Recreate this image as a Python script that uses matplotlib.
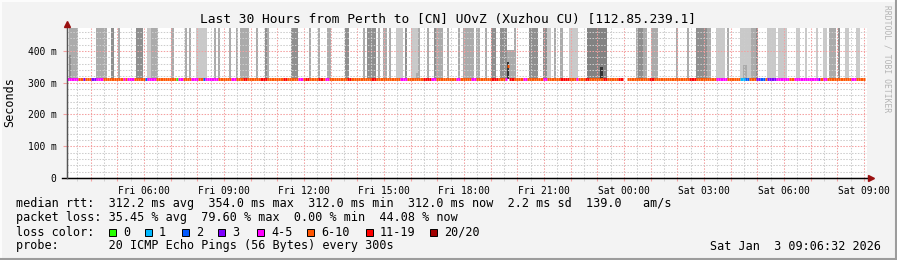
import numpy as np
import matplotlib
matplotlib.use("Agg")
import matplotlib.pyplot as plt
from matplotlib.patches import Rectangle
from matplotlib.lines import Line2D
from matplotlib.ticker import MultipleLocator, FuncFormatter

plt.rcParams['font.family'] = ['DejaVu Sans Mono']

W, H = 897, 260

# time window in hours since Fri 00:00, 5 minute steps
t_start = 3 + 6 / 60 + 32 / 3600
t_end = t_start + 30
step_h = 5 / 60
n_steps = 359

median_ms = 312.0
y_top = 472.4

# smoke bands: step index start / end and grey level
band_start = [1, 13, 20, 23, 31, 36, 38, 47, 53, 55, 58, 66, 68, 73, 76, 78, 81, 85, 89, 90,
              101, 109, 113, 117, 125, 133, 135, 140, 142, 145, 148, 152, 155, 158, 162, 165,
              166, 171, 176, 178, 180, 184, 188, 191, 195, 201, 208, 214, 216, 219, 222, 226,
              234, 256, 257, 259, 263, 274, 279, 283, 288, 292, 297, 303, 308, 310, 315, 320,
              328, 332, 337, 340, 343, 347, 350, 355]
band_end = [5, 18, 21, 24, 34, 38, 41, 48, 54, 56, 63, 67, 69, 74, 77, 81, 82, 86, 90, 91,
            104, 110, 114, 119, 127, 134, 139, 141, 144, 146, 151, 153, 158, 159, 163, 166,
            169, 172, 177, 180, 183, 186, 189, 193, 198, 202, 212, 216, 218, 220, 223, 230,
            243, 257, 259, 261, 266, 275, 280, 288, 290, 296, 298, 308, 310, 311, 319, 324,
            330, 333, 338, 342, 346, 348, 352, 357]
band_shade = ("mmdmdlmmmmlmmmmmmmdm" "dmmmdmdmmmldlmmd" "mmmmmmmddmddlmml"
              "kmdmmmmdmlmlmdll" "llllmdll")

# smoke that stops below the top of the graph
part_start = [1, 157, 198, 198, 240, 304]
part_end = [2, 158, 201, 199, 241, 306]
part_top = [388, 330, 403, 366, 350, 356]
part_shade = "dmmxxm"

shades = {'l': '#c9c9c9', 'm': '#ababab', 'd': '#8f8f8f', 'k': '#828282', 'x': '#333333'}

# loss runs on the median line (default 6-10)
run_start = [0, 7, 11, 13, 25, 27, 35, 36, 49, 50, 56, 61, 62, 74, 79, 87, 97, 104, 107, 113,
             116, 126, 137, 150, 160, 164, 175, 182, 191, 197, 199, 205, 214, 222, 229, 233,
             241, 248, 262, 280, 292, 303, 305, 310, 312, 315, 319, 327, 329, 338, 340, 353]
run_end = [5, 8, 13, 16, 26, 30, 36, 40, 50, 52, 59, 62, 68, 76, 81, 90, 99, 106, 109, 115,
           118, 128, 139, 153, 164, 166, 177, 184, 194, 198, 201, 207, 216, 226, 230, 235,
           243, 250, 264, 283, 297, 305, 307, 312, 314, 319, 325, 329, 338, 339, 342, 355]
run_cat = [4, 3, 3, 4, 4, 4, 2, 4, 0, 4, 4, 2, 4, 4, 6, 6, 6, 4, 6, 6,
           4, 6, 6, 4, 6, 4, 4, 4, 6, 4, 6, 4, 4, 6, 4, 6,
           6, 6, 6, 6, 4, 1, 2, 3, 2, 3, 4, 4, 4, 3, 4, 4]
gap_steps = [250, 251]
spike_steps = [198]
spike_ms = [354.0]

loss_labels = ['0', '1', '2', '3', '4-5', '6-10', '11-19', '20/20']
loss_colors = ['#26ff00', '#00b8ff', '#0059ff', '#7e00ff', '#ff00ff', '#ff5500', '#ff0000', '#a10000']

fig = plt.figure(figsize=(W / 100, H / 100), dpi=100)
fig.patch.set_facecolor('#f3f3f3')
ax = fig.add_axes([67 / W, (H - 178) / H, 800 / W, 150 / H])
ax.set_facecolor('white')

# smoke
bs = np.array(band_start)
be = np.array(band_end)
ax.bar(t_start + bs * step_h, y_top - median_ms, width=(be - bs) * step_h, bottom=median_ms,
       align='edge', color=[shades[c] for c in band_shade], lw=0, zorder=1)
ps = np.array(part_start)
pe = np.array(part_end)
ax.bar(t_start + ps * step_h, np.array(part_top) - median_ms, width=(pe - ps) * step_h,
       bottom=median_ms, align='edge', color=[shades[c] for c in part_shade], lw=0, zorder=1.5)

# median line coloured by loss
cat = np.full(n_steps, 5)
for s, e, c in zip(run_start, run_end, run_cat):
    cat[s:e] = c
med = np.full(n_steps, median_ms)
med[spike_steps] = spike_ms
keep = np.ones(n_steps, bool)
keep[gap_steps] = False
x0 = t_start + np.arange(n_steps) * step_h
ax.hlines(med[keep], x0[keep], x0[keep] + step_h,
          colors=[loss_colors[c] for c in cat[keep]], lw=2.1, zorder=5)

ax.set_xlim(t_start, t_end)
ax.set_ylim(0, y_top)


def hour_label(h, pos):
    hh = int(round(h))
    if hh % 3:
        return ''
    day = 'Fri' if hh < 24 else 'Sat'
    return '%s %02d:00' % (day, hh % 24)


def ms_label(v, pos):
    return '0' if v == 0 else '%d m' % v


ax.xaxis.set_major_locator(MultipleLocator(1))
ax.xaxis.set_minor_locator(MultipleLocator(0.5))
ax.xaxis.set_major_formatter(FuncFormatter(hour_label))
ax.yaxis.set_major_locator(MultipleLocator(100))
ax.yaxis.set_minor_locator(MultipleLocator(20))
ax.yaxis.set_major_formatter(FuncFormatter(ms_label))

ax.set_axisbelow(False)
ax.grid(which='major', color='#f4a0a0', lw=0.75, ls=(0, (1.4, 1.4)))
ax.grid(which='minor', color='#cccccc', lw=0.75, ls=(0, (1.4, 1.4)))
ax.tick_params(axis='x', which='major', length=2, color='#f4a0a0', pad=3.5, labelsize=6.9)
ax.tick_params(axis='x', which='minor', length=2, color='#cccccc')
ax.tick_params(axis='y', which='major', length=3, color='#f4a0a0', pad=4.5, labelsize=6.9)
ax.tick_params(axis='y', which='minor', length=0)

for side in ['top', 'right']:
    ax.spines[side].set_visible(False)
ax.spines['bottom'].set_color('black')
ax.spines['left'].set_color('#555555')

# axes extended to the arrows
ax.plot([t_start - 0.18, t_end + 0.12], [0, 0], color='black', lw=1, clip_on=False, zorder=6)
ax.plot([t_start, t_start], [0, 480], color='#555555', lw=1, clip_on=False, zorder=6)
ax.plot(t_end + 0.15, 0, marker='>', ms=4.5, color='#9a1010', clip_on=False, zorder=7)
ax.plot(t_start, 486, marker='^', ms=4.5, color='#9a1010', clip_on=False, zorder=7)

# texts
fig.text(447.5 / W, 1 - 23.3 / H, 'Last 30 Hours from Perth to [CN] UOvZ (Xuzhou CU) [112.85.239.1]',
         ha='center', va='baseline', fontsize=9.3, color='black')
fig.text(10 / W, 1 - 102 / H, 'Seconds', rotation=90, ha='center', va='center', fontsize=8.5)
fig.text(887 / W, 1 - 5 / H, 'RRDTOOL / TOBI OETIKER', rotation=270, ha='center', va='top',
         fontsize=5.8, color='#b4b4b4')

fs = 8.5
rows = [207.5, 221.5, 235.5, 249.5]
fig.text(16 / W, 1 - rows[0] / H,
         'median rtt:  312.2 ms avg  354.0 ms max  312.0 ms min  312.0 ms now  2.2 ms sd  139.0   am/s',
         va='baseline', fontsize=fs)
fig.text(16 / W, 1 - rows[1] / H,
         'packet loss: 35.45 % avg  79.60 % max  0.00 % min  44.08 % now',
         va='baseline', fontsize=fs)
fig.text(16 / W, 1 - rows[2] / H, 'loss color:', va='baseline', fontsize=fs)
box_x = [109, 145, 182, 218, 257, 307, 366, 430]
for bx, lab, col in zip(box_x, loss_labels, loss_colors):
    fig.add_artist(Rectangle((bx / W, 1 - 235.5 / H), 7 / W, 7 / H, transform=fig.transFigure,
                             facecolor=col, edgecolor='black', lw=0.7))
    fig.text((bx + 14) / W, 1 - rows[2] / H, lab, va='baseline', fontsize=fs)
fig.text(16 / W, 1 - rows[3] / H, 'probe:       20 ICMP Echo Pings (56 Bytes) every 300s',
         va='baseline', fontsize=fs)
fig.text(881 / W, 1 - rows[3] / H, 'Sat Jan  3 09:06:32 2026', ha='right', va='baseline', fontsize=fs)

# 3d frame
fig.add_artist(Line2D([0, 1], [1 - 0.5 / H, 1 - 0.5 / H], transform=fig.transFigure, color='#fcfcfc', lw=1.5))
fig.add_artist(Line2D([0.5 / W, 0.5 / W], [0, 1], transform=fig.transFigure, color='#fcfcfc', lw=1.5))
fig.add_artist(Line2D([0, 1], [1 / H, 1 / H], transform=fig.transFigure, color='#9c9c9c', lw=1.5))
fig.add_artist(Line2D([1 - 1 / W, 1 - 1 / W], [0, 1], transform=fig.transFigure, color='#9c9c9c', lw=1.5))

fig.savefig('out.png', dpi=100, facecolor=fig.get_facecolor())
